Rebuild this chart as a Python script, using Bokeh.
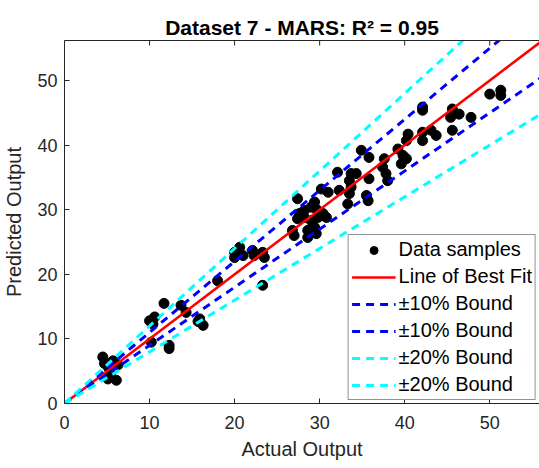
import numpy as np
from bokeh.plotting import figure
from bokeh.models import Range1d, LinearAxis, Legend, LegendItem, FixedTicker
from bokeh.embed import file_html
from bokeh.resources import INLINE

# ---- data ----
actual = [4.5, 4.7, 5.2, 5.7, 6.3, 5.1, 6.1, 5.4,
          10.0, 10.6, 10.4, 10.2, 12.3, 12.3, 11.7, 13.7, 14.3, 15.9, 16.3, 15.7,
          18.0, 20.0, 20.6, 20.0, 21.0, 22.1, 22.3, 23.5, 23.3, 23.3,
          51.3, 51.3, 50.0, 45.6, 45.4, 46.4, 47.8, 45.6, 42.1, 42.1, 42.1, 42.1,
          43.1, 43.7, 40.4, 40.2, 39.2, 39.8, 40.2, 39.6, 37.6, 37.4, 37.8, 38.0,
          35.8, 34.9, 35.8, 35.5, 35.7, 33.3, 33.7, 34.3, 33.5, 33.7, 33.5, 32.1,
          32.3, 30.2, 31.0, 27.4, 29.4, 29.0, 29.6, 27.6, 28.2, 27.4, 28.2, 30.4,
          30.8, 29.8, 29.0, 26.8, 27.0, 28.6, 28.6, 29.6, 29.4]
predicted = [7.2, 6.2, 5.5, 6.6, 6.0, 3.8, 3.6, 4.6,
             12.8, 13.4, 12.3, 9.5, 9.0, 8.5, 15.5, 15.2, 14.1, 13.1, 12.1, 12.7,
             19.0, 23.4, 24.2, 22.6, 22.9, 23.7, 22.9, 22.6, 23.4, 18.3,
             48.5, 47.7, 47.9, 45.6, 44.3, 44.8, 44.3, 42.3, 45.9, 45.4, 42.0, 40.7,
             42.3, 41.5, 41.7, 40.7, 39.4, 38.4, 37.9, 37.1, 37.9, 36.6, 35.6, 34.5,
             38.1, 39.2, 34.8, 32.2, 31.4, 30.9, 35.6, 35.6, 34.5, 33.5, 32.5, 35.8,
             33.0, 33.2, 32.7, 31.7, 31.2, 30.4, 30.1, 29.4, 29.9, 28.6, 28.8, 29.4,
             28.8, 28.8, 28.3, 26.8, 26.0, 26.8, 25.7, 26.3, 27.3]
fit_slope = 1.0
fit_intercept = 0.0
bound_10 = 0.10
bound_20 = 0.20
x_ticks = [0, 10, 20, 30, 40, 50]
y_ticks = [0, 10, 20, 30, 40, 50]
title_text = "Dataset 7 - MARS: R\u00b2 = 0.95"

x_max, y_max = 55.85, 56.2
x_line = np.array([0.0, max(actual) * 1.3])
y_fit = fit_slope * x_line + fit_intercept

FONT = "Liberation Sans"
AX = "#262626"

p = figure(width=539, height=468, output_backend="svg", toolbar_location=None,
           x_range=Range1d(0, x_max), y_range=Range1d(0, y_max),
           min_border_left=64, min_border_right=0, min_border_top=40,
           min_border_bottom=65, x_axis_location=None, y_axis_location=None)
p.outline_line_color = None
p.grid.visible = False
p.background_fill_color = "white"
p.border_fill_color = "white"

p.title.text = title_text
p.title.text_font = FONT
p.title.text_font_size = "21px"
p.title.text_font_style = "bold"
p.title.align = "center"
p.title.text_color = "black"
p.title.standoff = 4

def style_axis(ax, ticks):
    ax.ticker = FixedTicker(ticks=ticks)
    ax.axis_line_color = AX
    ax.major_tick_line_color = AX
    ax.major_tick_in = 5
    ax.major_tick_out = 0
    ax.minor_tick_line_color = None
    ax.major_label_text_font = FONT
    ax.major_label_text_color = AX
    ax.major_label_text_font_size = "18px"
    ax.axis_label_text_font = FONT
    ax.axis_label_text_font_size = "20px"
    ax.axis_label_text_font_style = "normal"
    ax.axis_label_text_color = AX

xb = LinearAxis(axis_label="Actual Output")
style_axis(xb, x_ticks)
xb.major_label_standoff = 12
xb.axis_label_standoff = 6
p.add_layout(xb, "below")

yl = LinearAxis(axis_label="Predicted Output")
style_axis(yl, y_ticks)
yl.major_label_standoff = 7
yl.axis_label_standoff = 9
p.add_layout(yl, "left")

# top border line (box on) with inward ticks drawn as short rays
xt = LinearAxis()
style_axis(xt, [])
p.add_layout(xt, "above")
p.ray(x=x_ticks, y=[y_max] * len(x_ticks), length=5, length_units="screen",
      angle=-np.pi / 2, line_color=AX, line_width=1)

r_pts = p.scatter(actual, predicted, size=10, color="black", marker="circle")
r_fit = p.line(x_line, y_fit, line_color="#FF0000", line_width=2.5)
r_b1 = p.line(x_line, y_fit * (1 + bound_10), line_color="#0000FF", line_width=3, line_dash="8 6")
r_b2 = p.line(x_line, y_fit * (1 - bound_10), line_color="#0000FF", line_width=3, line_dash="8 6")
r_c1 = p.line(x_line, y_fit * (1 + bound_20), line_color="#00FFFF", line_width=3, line_dash="8 6")
r_c2 = p.line(x_line, y_fit * (1 - bound_20), line_color="#00FFFF", line_width=3, line_dash="8 6")

legend = Legend(items=[
    LegendItem(label="Data samples", renderers=[r_pts]),
    LegendItem(label="Line of Best Fit", renderers=[r_fit]),
    LegendItem(label="\u00b110% Bound", renderers=[r_b1]),
    LegendItem(label="\u00b110% Bound", renderers=[r_b2]),
    LegendItem(label="\u00b120% Bound", renderers=[r_c1]),
    LegendItem(label="\u00b120% Bound", renderers=[r_c2]),
])
legend.location = "bottom_right"
legend.margin = 3
legend.padding = 3
legend.spacing = 4
legend.glyph_width = 44
legend.glyph_height = 20
legend.label_height = 20
legend.label_standoff = 3
legend.label_text_font = FONT
legend.label_text_font_size = "20px"
legend.label_text_color = "black"
legend.border_line_color = AX
legend.border_line_width = 1
legend.background_fill_color = "white"
legend.background_fill_alpha = 1.0
p.add_layout(legend, "center")

open("out.html", "w").write(file_html(p, INLINE))
